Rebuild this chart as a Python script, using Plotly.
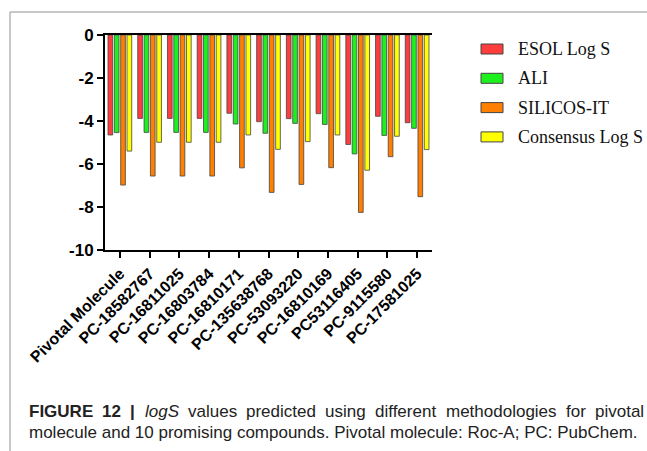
import plotly.graph_objects as go

categories = ["Pivotal Molecule", "PC-18582767", "PC-16811025", "PC-16803784", "PC-16810171",
              "PC-135638768", "PC-53093220", "PC-16810169", "PC53116405", "PC-9115580", "PC-17581025"]
series_names = ["ESOL Log S", "ALI", "SILICOS-IT", "Consensus Log S"]
esol = [-4.65, -3.88, -3.88, -3.88, -3.64, -4.03, -3.89, -3.66, -5.09, -3.78, -4.08]
ali = [-4.54, -4.53, -4.53, -4.53, -4.14, -4.57, -4.11, -4.16, -5.53, -4.67, -4.34]
silicos = [-6.98, -6.56, -6.56, -6.56, -6.18, -7.32, -6.95, -6.17, -8.25, -5.66, -7.52]
consensus = [-5.40, -4.99, -4.99, -4.99, -4.65, -5.32, -4.96, -4.65, -6.29, -4.71, -5.33]
y_ticks = [0, -2, -4, -6, -8, -10]
colors = ["#FF3D3D", "#1EF01E", "#FF7F00", "#FFFF00"]

W, H = 647, 451
L, R, T, B = 105, 432, 35, 250


def xp(px):
    return (px - L) / (R - L)


def yp(py):
    return (B - py) / (B - T)


fig = go.Figure()
for name, vals, col in zip(series_names, [esol, ali, silicos, consensus], colors):
    fig.add_trace(go.Bar(x=categories, y=vals, name=name, showlegend=False,
                         marker=dict(color=col, line=dict(color="#444444", width=0.8))))

shapes = []
annotations = []
# custom legend
for i, (name, col) in enumerate(zip(series_names, colors)):
    cy = 49 + i * 29.3
    shapes.append(dict(type="rect", xref="paper", yref="paper",
                       x0=xp(481), x1=xp(503), y0=yp(cy + 5), y1=yp(cy - 5),
                       fillcolor=col, line=dict(color="#444444", width=1)))
    annotations.append(dict(xref="paper", yref="paper", x=xp(516), y=yp(cy), text=name,
                            showarrow=False, xanchor="left", yanchor="middle",
                            font=dict(family="Liberation Serif", size=18, color="#111111")))

# border lines
shapes.append(dict(type="line", xref="paper", yref="paper", x0=xp(10), x1=xp(10),
                   y0=yp(12), y1=yp(460), line=dict(color="#B4B4B4", width=1.5)))
shapes.append(dict(type="line", xref="paper", yref="paper", x0=xp(10), x1=xp(660),
                   y0=yp(12), y1=yp(12), line=dict(color="#B4B4B4", width=1.5)))

# caption (justified lines)
cap_font = dict(family="Liberation Sans", size=17, color="#222222")
words1 = [("<b>FIGURE</b>", 27), ("<b>12</b>", 100), ("<b>|</b>", 128), ("<i>logS</i>", 142.5),
          ("values", 186), ("predicted", 244), ("using", 323), ("different", 373),
          ("methodologies", 444), ("for", 564), ("pivotal", 593)]
for w, x0 in words1:
    annotations.append(dict(xref="paper", yref="paper", x=xp(x0), y=yp(411), text=w,
                            showarrow=False, xanchor="left", yanchor="middle", font=cap_font))
annotations.append(dict(xref="paper", yref="paper", x=xp(27), y=yp(432),
                        text="molecule and 10 promising compounds. Pivotal molecule: Roc-A; PC: PubChem.",
                        showarrow=False, xanchor="left", yanchor="middle", font=cap_font))

fig.update_layout(
    width=W, height=H,
    margin=dict(l=L, r=W - R, t=T, b=H - B, autoexpand=False),
    paper_bgcolor="white", plot_bgcolor="white",
    barmode="group", bargap=0.147, bargroupgap=0.26,
    shapes=shapes, annotations=annotations,
    xaxis=dict(range=[-0.5, 10.5], showline=True, linecolor="black", linewidth=2,
               mirror=True, ticks="outside", ticklen=6, tickwidth=2, tickcolor="black",
               tickangle=-45, showgrid=False, automargin=False,
               tickfont=dict(family="Liberation Sans", size=16, color="black", weight="bold")),
    yaxis=dict(range=[-10, 0], tickvals=y_ticks, ticktext=[str(v) for v in y_ticks],
               showline=True, linecolor="black", linewidth=2, ticks="outside",
               ticklen=6, tickwidth=2, tickcolor="black", showgrid=False, zeroline=False,
               automargin=False,
               tickfont=dict(family="Liberation Sans", size=17, color="black", weight="bold")),
)

fig.write_html("out.html", config={"displayModeBar": False},
               post_script="document.body.style.margin='0px';document.body.style.overflow='hidden';")
